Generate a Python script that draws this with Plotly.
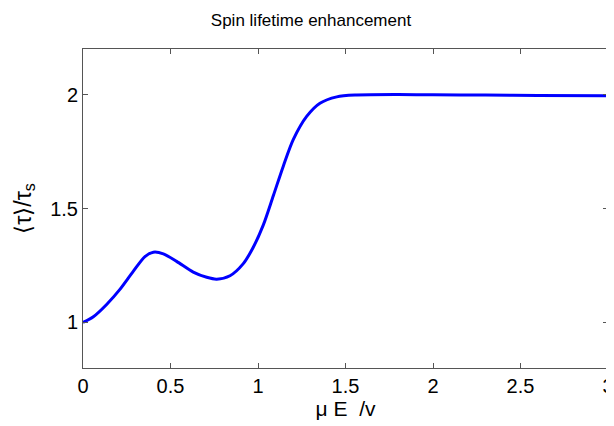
import plotly.graph_objects as go

x_vals = [0.0, 0.059, 0.135, 0.211, 0.287, 0.354, 0.402, 0.459, 0.535, 0.63, 0.707, 0.764,
          0.84, 0.916, 0.973, 1.03, 1.088, 1.145, 1.202, 1.278, 1.354, 1.45, 1.564,
          1.8, 2.0, 2.3, 2.6, 3.0]
y_vals = [1.0, 1.025, 1.079, 1.145, 1.224, 1.289, 1.308, 1.301, 1.268, 1.221, 1.198, 1.19,
          1.205, 1.258, 1.33, 1.427, 1.557, 1.687, 1.803, 1.904, 1.962, 1.99, 1.998,
          2.0, 1.999, 1.998, 1.996, 1.995]

x_ticks = [0, 0.5, 1, 1.5, 2, 2.5, 3]
x_tick_labels = ["0", "0.5", "1", "1.5", "2", "2.5", "3"]
y_ticks = [1, 1.5, 2]
y_tick_labels = ["1", "1.5", "2"]

fig = go.Figure()
fig.add_trace(go.Scatter(x=x_vals, y=y_vals, mode="lines",
                         line=dict(color="#0000ff", width=3, shape="spline", smoothing=0.8),
                         showlegend=False))

FAM = "Liberation Sans, Arial, sans-serif"
W, H = 606, 418
fig.update_layout(
    width=W, height=H,
    margin=dict(l=75, r=6, t=41, b=58),
    paper_bgcolor="white", plot_bgcolor="white",
    font=dict(family=FAM, size=19, color="black"),
    title=dict(text="Spin lifetime enhancement", x=303 / W, xanchor="center",
               y=1 - 12 / H, yanchor="middle",
               font=dict(family=FAM, size=17, color="black")),
    xaxis=dict(range=[0, 3], tickvals=x_ticks, ticktext=x_tick_labels, automargin=False,
               tickfont=dict(family=FAM, size=20, color="black"),
               ticks="inside", ticklen=5, tickcolor="#555", showline=True, linecolor="#555",
               linewidth=1, mirror="ticks", showgrid=False, zeroline=False,
               title=dict(text="μ E  /v", standoff=0,
                          font=dict(family=FAM, size=21, color="black"))),
    yaxis=dict(range=[0.8, 2.2], tickvals=y_ticks, ticktext=y_tick_labels, automargin=False,
               tickfont=dict(family=FAM, size=20, color="black"),
               ticks="inside", ticklen=5, tickcolor="#555", showline=True, linecolor="#555",
               linewidth=1, mirror="ticks", showgrid=False, zeroline=False,
               title=dict(text="⟨τ⟩/τ<sub>s</sub>", standoff=12,
                          font=dict(family=FAM, size=23, color="black"))),
)

fig.write_html("out.html")
